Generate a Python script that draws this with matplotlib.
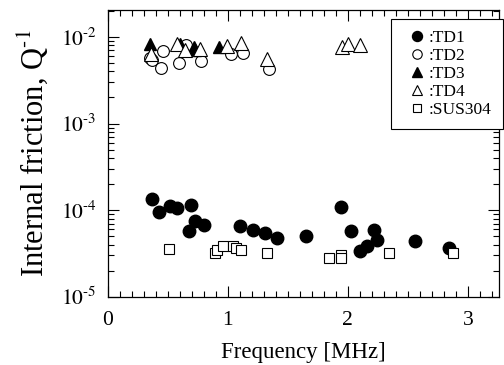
import matplotlib
matplotlib.use("Agg")
import matplotlib.pyplot as plt
from matplotlib.ticker import LogLocator, MultipleLocator, NullFormatter, FuncFormatter
import numpy as np

plt.rcParams['font.family'] = ['Liberation Serif', 'DejaVu Serif']
plt.rcParams['mathtext.fontset'] = 'stix'

td1_x = [0.37, 0.43, 0.52, 0.58, 0.69, 0.68, 0.73, 0.80, 1.10, 1.21, 1.31, 1.41, 1.65,
         1.94, 2.03, 2.10, 2.16, 2.22, 2.24, 2.56, 2.84]
td1_y = [1.34e-4, 9.6e-5, 1.12e-4, 1.05e-4, 1.16e-4, 5.7e-5, 7.5e-5, 6.7e-5, 6.5e-5, 5.9e-5,
         5.5e-5, 4.8e-5, 5.0e-5, 1.09e-4, 5.7e-5, 3.4e-5, 3.9e-5, 5.9e-5, 4.5e-5, 4.4e-5, 3.7e-5]

td2_x = [0.35, 0.37, 0.44, 0.46, 0.59, 0.65, 0.78, 1.03, 1.13, 1.34]
td2_y = [5.7e-3, 5.4e-3, 4.4e-3, 6.8e-3, 5.0e-3, 8.0e-3, 5.3e-3, 6.3e-3, 6.6e-3, 4.3e-3]

td3_x = [0.35, 0.60, 0.72, 0.73, 0.93]
td3_y = [8.4e-3, 8.3e-3, 7.6e-3, 7.0e-3, 7.7e-3]

td4_x = [0.36, 0.58, 0.64, 0.77, 0.99, 1.11, 1.33, 1.95, 2.00, 2.10]
td4_y = [6.4e-3, 8.4e-3, 7.0e-3, 7.2e-3, 7.9e-3, 8.6e-3, 5.5e-3, 7.7e-3, 8.4e-3, 8.0e-3]

sus_x = [0.51, 0.89, 0.91, 0.96, 1.04, 1.07, 1.11, 1.33, 1.84, 1.94, 1.94, 2.34, 2.88]
sus_y = [3.6e-5, 3.2e-5, 3.5e-5, 3.9e-5, 3.85e-5, 3.7e-5, 3.5e-5, 3.2e-5, 2.8e-5, 3.0e-5,
         2.8e-5, 3.2e-5, 3.2e-5]

fig = plt.figure(figsize=(5.04, 3.65), dpi=100)
ax = fig.add_axes([107.7/504, (365-296.7)/365, (499-107.7)/504, (296.7-10)/365])

ax.plot(td1_x, td1_y, 'o', color='black', ms=9, ls='none', label=':TD1')
ax.plot(td2_x, td2_y, 'o', mfc='white', mec='black', mew=0.8, ms=8.5, ls='none', label=':TD2')
ax.plot(td3_x, td3_y, '^', color='black', ms=9, ls='none', label=':TD3')
ax.plot(td4_x, td4_y, '^', mfc='white', mec='black', mew=0.8, ms=9.5, ls='none', label=':TD4')
ax.plot(sus_x, sus_y, 's', mfc='white', mec='black', mew=0.8, ms=7.5, ls='none', label=':SUS304')

ax.set_yscale('log')
ax.set_xlim(0, 3.26)
ax.set_ylim(1e-5, 2.05e-2)
ax.xaxis.set_major_locator(MultipleLocator(1))
ax.xaxis.set_minor_locator(MultipleLocator(0.1))
ax.yaxis.set_major_locator(LogLocator(base=10, numticks=10))
ax.yaxis.set_minor_locator(LogLocator(base=10, subs=range(2, 10), numticks=10))
ax.yaxis.set_minor_formatter(NullFormatter())


def log_fmt(v, pos):
    n = int(round(np.log10(v)))
    if n < 0:
        return r'$10^{\text{-}%d}$' % (-n)
    return r'$10^{%d}$' % n


ax.yaxis.set_major_formatter(FuncFormatter(log_fmt))

ax.tick_params(which='both', direction='in', top=True, right=True, labelsize=15.5, width=0.8)
ax.tick_params(which='major', length=8)
ax.tick_params(which='minor', length=4)
ax.tick_params(axis='x', pad=10)
ax.tick_params(axis='y', pad=8)
for s in ax.spines.values():
    s.set_linewidth(0.9)

ax.set_xlabel('Frequency [MHz]', fontsize=16.5, labelpad=9)
ax.set_ylabel(r'Internal friction, Q$^{\text{-}1}$', fontsize=22, labelpad=8)

leg = ax.legend(loc='upper right', bbox_to_anchor=(1.010, 0.9686), fontsize=12.5,
                frameon=True, fancybox=False, edgecolor='black', framealpha=1,
                handletextpad=-0.1, borderpad=0.65, labelspacing=0.1, handlelength=1.6,
                markerscale=0.8, borderaxespad=0)
leg.get_frame().set_linewidth(0.8)

fig.savefig('out.png', dpi=100)
